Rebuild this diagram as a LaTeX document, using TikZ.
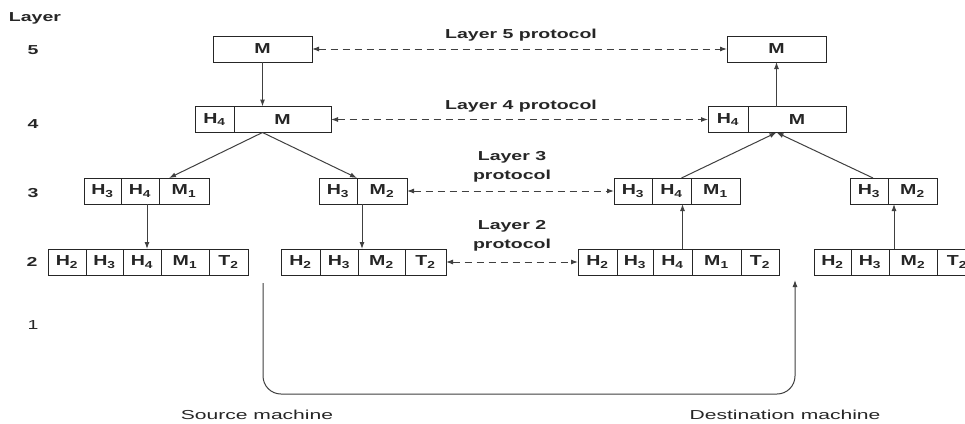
\documentclass[tikz,border=0pt]{standalone}
\usepackage{fontspec}
\setmainfont{Liberation Sans}
\usepackage{graphicx}
\usetikzlibrary{arrows.meta}
\newcommand{\sx}[1]{\scalebox{1.5}[1]{#1}}
\newcommand{\bx}[1]{\scalebox{1.35}[1]{#1}}
\newcommand{\lx}[1]{\scalebox{1.62}[1]{#1}}
\newcommand{\sub}[2]{#1\textsubscript{#2}}
\tikzset{
  cell/.style={draw=black!85, line width=1pt, minimum height=26pt, inner sep=0pt, outer sep=0pt,
    font=\fontsize{14.5}{16}\selectfont\bfseries, text=black!85},
  lbl/.style={font=\fontsize{13}{19}\selectfont\bfseries, inner sep=0pt, text=black!85},
  thinlbl/.style={font=\fontsize{13}{19}\selectfont, inner sep=0pt, text=black!85},
  conn/.style={draw=black!75, line width=1pt, -{Latex[length=7pt,width=5pt]}},
  proto/.style={draw=black!75, line width=1pt, dash pattern=on 7pt off 5pt,
    {Latex[length=7pt,width=5pt]}-{Latex[length=7pt,width=5pt]}},
}
\begin{document}
\begin{tikzpicture}[x=1pt,y=-1pt]
\fill[white] (0,0) rectangle (965,423);
\clip (0,0) rectangle (965,423);

% layer numbers
\node[lbl] (layer) at (35,18) {\sx{Layer}};
\node[lbl] (n5) at (33,50) {\sx{5}};
\node[lbl] (n4) at (33,124) {\sx{4}};
\node[lbl] (n3) at (33,193) {\sx{3}};
\node[lbl] (n2) at (32,262) {\sx{2}};
\node[thinlbl] (n1) at (33,325) {\sx{1}};

% layer 5
\node[cell, minimum width=99pt] (s5) at (262.5,49) {\bx{M}};
\node[cell, minimum width=99pt] (d5) at (776.5,49) {\bx{M}};
% layer 4
\node[cell, minimum width=39pt] (s4h) at (214.5,119.5) {\bx{\sub{H}{4}}};
\node[cell, minimum width=97pt] (s4m) at (282.5,119.5) {\bx{M}};
\node[cell, minimum width=40pt] (d4h) at (728,119.5) {\bx{\sub{H}{4}}};
\node[cell, minimum width=98pt] (d4m) at (797,119.5) {\bx{M}};
% layer 3
\node[cell, minimum width=37pt] (s3a1) at (102.5,191) {\bx{\sub{H}{3}}};
\node[cell, minimum width=38pt] (s3a2) at (140,191) {\bx{\sub{H}{4}}};
\node[cell, minimum width=50pt] (s3a3) at (184,191) {\bx{\sub{M}{1}}};
\node[cell, minimum width=38pt] (s3b1) at (338,191) {\bx{\sub{H}{3}}};
\node[cell, minimum width=50pt] (s3b2) at (382,191) {\bx{\sub{M}{2}}};
\node[cell, minimum width=38pt] (d3a1) at (633,191) {\bx{\sub{H}{3}}};
\node[cell, minimum width=39pt] (d3a2) at (671.5,191) {\bx{\sub{H}{4}}};
\node[cell, minimum width=49pt] (d3a3) at (715.5,191) {\bx{\sub{M}{1}}};
\node[cell, minimum width=38pt] (d3b1) at (869,191) {\bx{\sub{H}{3}}};
\node[cell, minimum width=49pt] (d3b2) at (912.5,191) {\bx{\sub{M}{2}}};
% layer 2
\node[cell, minimum width=38pt] (s2a1) at (67,262) {\bx{\sub{H}{2}}};
\node[cell, minimum width=37pt] (s2a2) at (104.5,262) {\bx{\sub{H}{3}}};
\node[cell, minimum width=38pt] (s2a3) at (142,262) {\bx{\sub{H}{4}}};
\node[cell, minimum width=48pt] (s2a4) at (185,262) {\bx{\sub{M}{1}}};
\node[cell, minimum width=39pt] (s2a5) at (228.5,262) {\bx{\sub{T}{2}}};
\node[cell, minimum width=39pt] (s2b1) at (300.5,262) {\bx{\sub{H}{2}}};
\node[cell, minimum width=38pt] (s2b2) at (339,262) {\bx{\sub{H}{3}}};
\node[cell, minimum width=47pt] (s2b3) at (381.5,262) {\bx{\sub{M}{2}}};
\node[cell, minimum width=41pt] (s2b4) at (425.5,262) {\bx{\sub{T}{2}}};
\node[cell, minimum width=39pt] (d2a1) at (597.5,262) {\bx{\sub{H}{2}}};
\node[cell, minimum width=36pt] (d2a2) at (635,262) {\bx{\sub{H}{3}}};
\node[cell, minimum width=39pt] (d2a3) at (672.5,262) {\bx{\sub{H}{4}}};
\node[cell, minimum width=49pt] (d2a4) at (716.5,262) {\bx{\sub{M}{1}}};
\node[cell, minimum width=38pt] (d2a5) at (760,262) {\bx{\sub{T}{2}}};
\node[cell, minimum width=37pt] (d2b1) at (832.5,262) {\bx{\sub{H}{2}}};
\node[cell, minimum width=38pt] (d2b2) at (870,262) {\bx{\sub{H}{3}}};
\node[cell, minimum width=48pt] (d2b3) at (913,262) {\bx{\sub{M}{2}}};
\node[cell, minimum width=40pt] (d2b4) at (957,262) {\bx{\sub{T}{2}}};

% protocol labels
\node[lbl] (p5) at (521,35) {\sx{Layer 5 protocol}};
\node[lbl] (p4) at (521,106) {\sx{Layer 4 protocol}};
\node[lbl, align=center] (p3) at (512,167) {\sx{Layer 3}\\\sx{protocol}};
\node[lbl, align=center] (p2) at (512,236) {\sx{Layer 2}\\\sx{protocol}};

% protocol arrows
\draw[proto] (s5.east) -- (d5.west);
\draw[proto] (s4m.east) -- (d4h.west);
\draw[proto] (s3b2.east) -- (d3a1.west);
\draw[proto] (s2b4.east) -- (d2a1.west);

% source side
\draw[conn] (s5.south) -- (s5.south |- s4m.north);
\coordinate (sap) at (s5.south |- s4m.south);
\draw[conn] (sap) -- ([xshift=-15pt]s3a3.north);
\draw[conn] (sap) -- (s3b1.north east);
\draw[conn] ([xshift=7pt]s3a2.south) -- ([xshift=7pt]s3a2.south |- s2a3.north);
\draw[conn] ([xshift=5pt]s3b2.south west) -- ([xshift=5pt]s3b2.south west |- s2b3.north);

% destination side
\coordinate (dap) at (d5.south |- d4m.south);
\draw[conn] ([xshift=10pt]d3a2.north) -- (dap);
\draw[conn] ([xshift=4pt]d3b1.north) -- (dap);
\draw[conn] ([xshift=10pt]d2a3.north) -- ([xshift=10pt]d2a3.north |- d3a2.south);
\draw[conn] ([xshift=5pt]d2b3.north west) -- ([xshift=5pt]d2b3.north west |- d3b2.south);
\draw[conn] (d4m.north -| d5.south) -- (d5.south);

% physical medium
\coordinate (srcout) at (263,283);
\coordinate (bl) at (263,394);
\coordinate (br) at (795,394);
\coordinate (dstin) at (795,280);
\draw[conn, rounded corners=18pt] (srcout) -- (bl) -- (br) -- (dstin);

\node[thinlbl] (src) at (257,415) {\lx{Source machine}};
\node[thinlbl] (dst) at (785,415) {\lx{Destination machine}};
\end{tikzpicture}
\end{document}
